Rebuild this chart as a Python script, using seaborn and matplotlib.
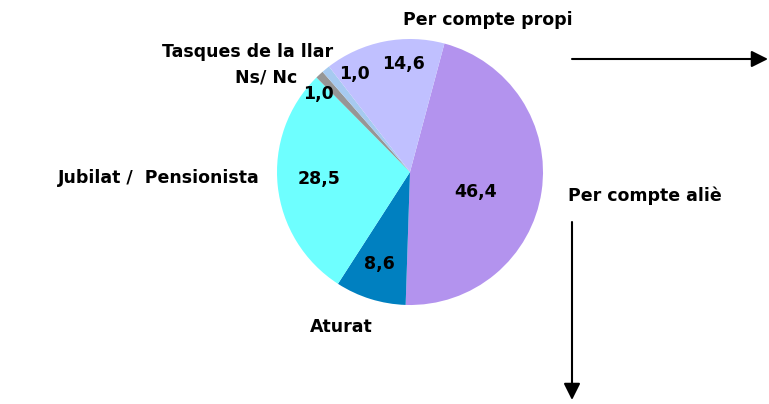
import matplotlib
matplotlib.use("Agg")
import matplotlib.pyplot as plt
import seaborn as sns

categories = ["Per compte aliè", "Aturat", "Jubilat /  Pensionista", "Ns/ Nc",
              "Tasques de la llar", "Per compte propi"]
values = [46.4, 8.6, 28.5, 1.0, 1.0, 14.6]
value_labels = ["46,4", "8,6", "28,5", "1,0", "1,0", "14,6"]
colors = ["#B393EE", "#0080C0", "#6EFFFF", "#969696", "#A6CAF0", "#C0C0FF"]

sns.set_theme(style="white")
plt.rcParams['font.family'] = ['DejaVu Sans']

W, H = 769, 404
fig = plt.figure(figsize=(W / 100, H / 100), dpi=100)

# pie centre / radius in pixels
cx, cy, r = 410, 172, 133
ax = fig.add_axes([(cx - r) / W, (H - cy - r) / H, 2 * r / W, 2 * r / H])
wedges, _ = ax.pie(values, colors=colors, startangle=75, counterclock=False,
                   radius=1, wedgeprops=dict(linewidth=0))
ax.set_xlim(-1, 1)
ax.set_ylim(-1, 1)
ax.set_aspect("equal")
ax.axis("off")

# value labels inside the pie (offsets in radius units)
lab_pos = [(0.49, -0.15), (-0.23, -0.69), (-0.68, -0.05), (-0.69, 0.59),
           (-0.42, 0.74), (-0.05, 0.81)]
for (x, y), t in zip(lab_pos, value_labels):
    ax.text(x, y, t, ha="center", va="center", fontsize=12.5,
            fontweight="bold", color="black")


def px(x, y):
    return x / W, 1 - y / H


cat_pos = [(645, 196, "center"), (341, 327, "center"), (260, 178, "right"),
           (297, 77, "right"), (333, 52, "right"), (488, 20, "center")]
for (x, y, ha), t in zip(cat_pos, categories):
    fig.text(*px(x, y), t, ha=ha, va="center", fontsize=12.5,
             fontweight="bold", color="black")

# arrows
fig.add_artist(matplotlib.patches.FancyArrowPatch(
    px(572, 59), px(768, 59), transform=fig.transFigure,
    arrowstyle="-|>,head_length=10,head_width=5", color="black", lw=1.5,
    shrinkA=0, shrinkB=0))
fig.add_artist(matplotlib.patches.FancyArrowPatch(
    px(572, 222), px(572, 400), transform=fig.transFigure,
    arrowstyle="-|>,head_length=10,head_width=5", color="black", lw=1.5,
    shrinkA=0, shrinkB=0))

fig.savefig("out.png", dpi=100, facecolor="white")
